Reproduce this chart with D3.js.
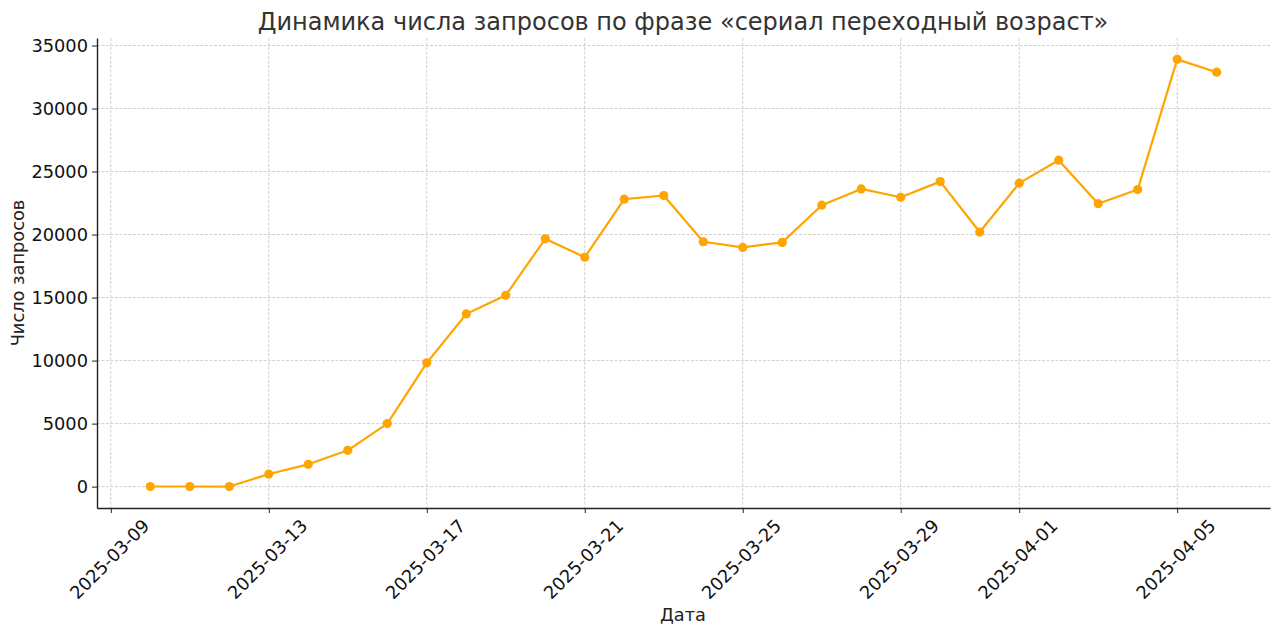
<!DOCTYPE html>
<html>
<head>
<meta charset="utf-8">
<script src="https://cdn.jsdelivr.net/npm/d3@7"></script>
<style>
  html, body { margin: 0; padding: 0; background: #fff; }
  svg { display: block; font-family: "DejaVu Sans", sans-serif; }
</style>
</head>
<body>
<svg id="chart" width="1280" height="635"></svg>
<script>
const dates = ["2025-03-10","2025-03-11","2025-03-12","2025-03-13","2025-03-14","2025-03-15","2025-03-16","2025-03-17","2025-03-18","2025-03-19","2025-03-20","2025-03-21","2025-03-22","2025-03-23","2025-03-24","2025-03-25","2025-03-26","2025-03-27","2025-03-28","2025-03-29","2025-03-30","2025-03-31","2025-04-01","2025-04-02","2025-04-03","2025-04-04","2025-04-05","2025-04-06"];
const values = [10, 10, 5, 1000, 1770, 2880, 5000, 9820, 13700, 15180, 19660, 18200, 22810, 23100, 19430, 18980, 19380, 22330, 23620, 22960, 24200, 20200, 24080, 25900, 22450, 23570, 33900, 32880];
const xTickLabels = ["2025-03-09","2025-03-13","2025-03-17","2025-03-21","2025-03-25","2025-03-29","2025-04-01","2025-04-05"];
const yTickValues = [0, 5000, 10000, 15000, 20000, 25000, 30000, 35000];
const title = "Динамика числа запросов по фразе «сериал переходный возраст»";
const xLabel = "Дата";
const yLabel = "Число запросов";

const FONT = "DejaVu Sans, sans-serif";
const parse = d3.utcParse("%Y-%m-%d");
const data = dates.map((d, i) => ({ date: parse(d), value: values[i] }));

const margin = { left: 97, right: 10, top: 38, bottom: 127 };
const W = 1280, H = 635;
const svg = d3.select("#chart");

const xMin = d3.min(data, d => d.date), xMax = d3.max(data, d => d.date);
const xPad = (xMax - xMin) * 0.05;
const x = d3.scaleUtc()
  .domain([new Date(+xMin - xPad), new Date(+xMax + xPad)])
  .range([margin.left, W - margin.right]);

const yMax = d3.max(values), yMin = 0;
const yPad = (yMax - yMin) * 0.05;
const y = d3.scaleLinear()
  .domain([yMin - yPad, yMax + yPad])
  .range([H - margin.bottom, margin.top]);

const xTicks = xTickLabels.map(parse);

// grid
const grid = svg.append("g");
grid.selectAll("line.vx").data(xTicks).join("line")
  .attr("x1", d => x(d)).attr("x2", d => x(d))
  .attr("y1", margin.top).attr("y2", H - margin.bottom)
  .attr("stroke", "#c4c4c4").attr("stroke-width", 0.8).attr("stroke-dasharray", "3,1.5");
grid.selectAll("line.hy").data(yTickValues).join("line")
  .attr("x1", margin.left).attr("x2", W - margin.right)
  .attr("y1", d => y(d)).attr("y2", d => y(d))
  .attr("stroke", "#c4c4c4").attr("stroke-width", 0.8).attr("stroke-dasharray", "3,1.5");

// axes
const xAxis = svg.append("g")
  .attr("transform", `translate(0,${H - margin.bottom})`)
  .call(d3.axisBottom(x).tickValues(xTicks).tickSize(5).tickSizeOuter(0).tickFormat(d3.utcFormat("%Y-%m-%d")))
  .attr("font-family", FONT);
xAxis.select(".domain").attr("stroke", "#222").attr("stroke-width", 1.4);
xAxis.selectAll(".tick line").attr("stroke", "#222").attr("stroke-width", 1);
xAxis.selectAll(".tick text")
  .attr("font-size", 17.8).attr("fill", "#111")
  .attr("text-anchor", "middle").attr("dominant-baseline", "central")
  .attr("x", 0).attr("y", 0).attr("dy", null)
  .attr("transform", "translate(-2,51) rotate(-45)");

const yAxis = svg.append("g")
  .attr("transform", `translate(${margin.left},0)`)
  .call(d3.axisLeft(y).tickValues(yTickValues).tickSize(5).tickSizeOuter(0).tickFormat(d3.format("d")).tickPadding(4))
  .attr("font-family", FONT);
yAxis.select(".domain").attr("stroke", "#222").attr("stroke-width", 1.4);
yAxis.selectAll(".tick line").attr("stroke", "#222").attr("stroke-width", 1);
yAxis.selectAll(".tick text").attr("font-size", 17.8).attr("fill", "#111");

// line
const line = d3.line().x(d => x(d.date)).y(d => y(d.value));
svg.append("path").datum(data)
  .attr("fill", "none").attr("stroke", "#FFA500").attr("stroke-width", 2.2)
  .attr("stroke-linejoin", "round")
  .attr("d", line);
svg.selectAll("circle.pt").data(data).join("circle")
  .attr("cx", d => x(d.date)).attr("cy", d => y(d.value)).attr("r", 4.6)
  .attr("fill", "#FFA500");

// titles
svg.append("text").attr("x", 683).attr("y", 29.5)
  .attr("text-anchor", "middle").attr("font-family", FONT).attr("font-size", 24).attr("fill", "#333").text(title);
svg.append("text").attr("x", 683).attr("y", 621)
  .attr("text-anchor", "middle").attr("font-family", FONT).attr("font-size", 17.8).attr("fill", "#222").text(xLabel);
svg.append("text").attr("transform", `translate(24,${(margin.top + H - margin.bottom) / 2}) rotate(-90)`)
  .attr("text-anchor", "middle").attr("font-family", FONT).attr("font-size", 17.8).attr("fill", "#222").text(yLabel);
</script>
</body>
</html>
